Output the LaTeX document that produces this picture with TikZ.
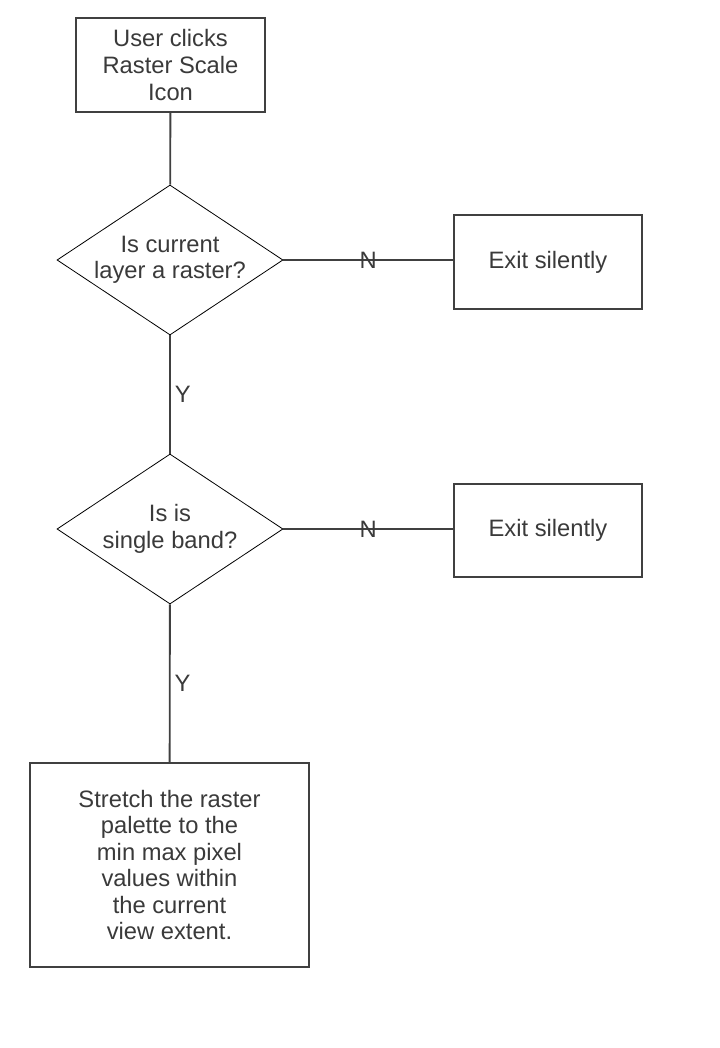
\documentclass[tikz,border=0pt]{standalone}
\usepackage{fontspec}
\setmainfont{Liberation Sans}
\usepackage{tikz}
\usetikzlibrary{shapes.geometric,positioning}
\definecolor{linegray}{HTML}{404040}
\definecolor{textgray}{HTML}{3A3A3A}

\begin{document}
\begin{tikzpicture}[
    x=0.75pt, y=-0.75pt,
    font=\fontsize{17.8}{19.9}\selectfont,
    text=textgray,
    block/.style={
		rectangle,
		draw=linegray,
		line width=1.3pt,
		text centered,
		align=center,
		inner sep=0pt,
		fill=white
	},
	decision/.style={
		diamond,
		draw=black,
		line width=0.6pt,
		shape aspect=1.5,
		inner sep=0pt,
		align=center,
		minimum width=169.5pt,
		minimum height=112.5pt
	},
	link/.style={
		draw=linegray,
		line width=1.4pt
	},
	answer/.style={
		inner sep=1pt
	}
  ]
  \useasboundingbox (0,0) rectangle (719,1048);
    % We start by placing the blocks

  \node [block, minimum width=141.75pt, minimum height=70.5pt] (start) at (170.5,65)
 {User clicks\\Raster Scale\\Icon};

  \node [decision] (israster) at (170,260)
 {Is current\\layer a raster?};

  \node [block, minimum width=141pt, minimum height=70.5pt] (exit1) at (548,262)
 {Exit silently};

  \node [decision] (isband) at (170,529)
 {Is is\\single band?};

  \node [block, minimum width=141pt, minimum height=70pt] (exit2) at (548,530.5)
 {Exit silently};

  \node [block, minimum width=209.25pt, minimum height=153pt] (stretch) at (169.5,865)
 {Stretch the raster\\palette to the\\min max pixel\\values within\\the current\\view extent.};

 \draw [link] (start) -- (israster);
 \draw [link] (israster.east) -- node [answer] {N} (exit1.west |- israster.east);
 \draw [link] (israster) -- node [answer, right, xshift=2pt] {Y} (isband);
 \draw [link] (isband.east) -- node [answer] {N} (exit2.west |- isband.east);
 \draw [link] (isband) -- node [answer, right, xshift=2pt] {Y} (stretch);

\end{tikzpicture}
\end{document}
